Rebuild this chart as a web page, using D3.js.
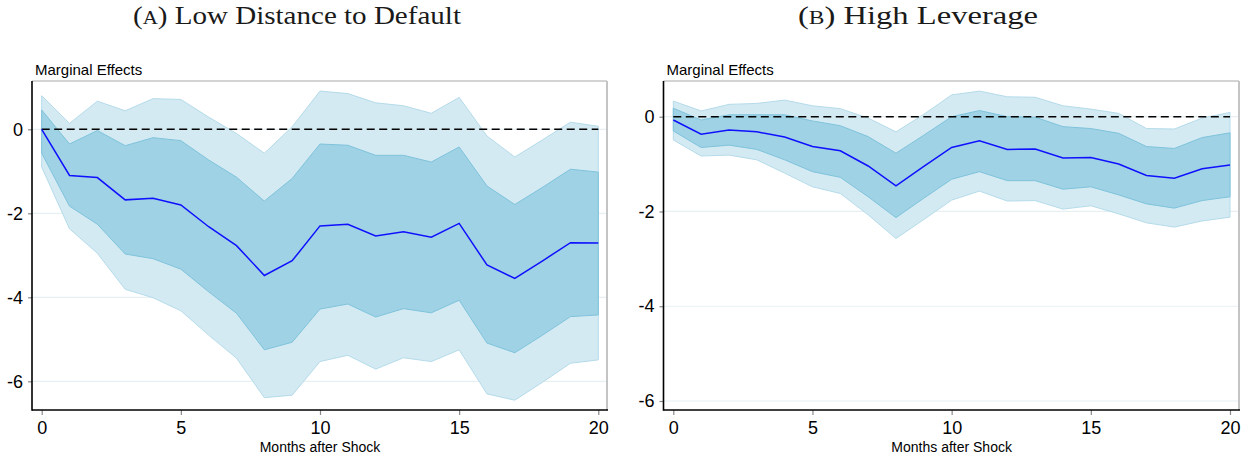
<!DOCTYPE html>
<html><head><meta charset="utf-8">
<script src="https://cdn.jsdelivr.net/npm/d3@7"></script>
<style>body{margin:0;background:#fff}svg{display:block}</style>
</head><body>
<svg id="c" width="1253" height="460"></svg>
<script>
const months = d3.range(0, 21);
const xTicks = [0, 5, 10, 15, 20];
const yTicks = [0, -2, -4, -6];

// Panel A: Low Distance to Default
const aMid = [0.00,-1.10,-1.15,-1.68,-1.64,-1.80,-2.32,-2.77,-3.48,-3.13,-2.30,-2.26,-2.54,-2.44,-2.57,-2.24,-3.23,-3.55,-3.13,-2.70,-2.71];
const aHi68 = [0.46,-0.35,-0.03,-0.39,-0.20,-0.27,-0.73,-1.14,-1.71,-1.17,-0.35,-0.38,-0.62,-0.62,-0.78,-0.42,-1.35,-1.79,-1.38,-0.95,-1.02];
const aLo68 = [-0.57,-1.83,-2.26,-2.97,-3.08,-3.33,-3.87,-4.38,-5.25,-5.07,-4.28,-4.16,-4.47,-4.27,-4.37,-4.07,-5.09,-5.32,-4.90,-4.46,-4.42];
const aHi90 = [0.80,0.14,0.67,0.44,0.73,0.71,0.29,-0.10,-0.57,0.06,0.91,0.85,0.63,0.56,0.38,0.76,-0.16,-0.66,-0.25,0.17,0.07];
const aLo90 = [-0.90,-2.37,-2.95,-3.81,-4.01,-4.32,-4.90,-5.45,-6.39,-6.33,-5.53,-5.38,-5.71,-5.44,-5.53,-5.25,-6.30,-6.45,-6.02,-5.57,-5.49];

// Panel B: High Leverage
const bMid = [-0.07,-0.37,-0.28,-0.32,-0.43,-0.63,-0.72,-1.04,-1.46,-1.05,-0.65,-0.51,-0.69,-0.68,-0.87,-0.86,-1.00,-1.24,-1.30,-1.10,-1.02];
const bHi68 = [0.18,-0.07,0.04,0.04,0.04,-0.09,-0.19,-0.42,-0.77,-0.39,0.00,0.13,0.00,-0.01,-0.21,-0.25,-0.35,-0.63,-0.67,-0.44,-0.34];
const bLo68 = [-0.30,-0.65,-0.60,-0.69,-0.91,-1.16,-1.28,-1.69,-2.13,-1.72,-1.32,-1.16,-1.35,-1.35,-1.53,-1.48,-1.65,-1.84,-1.93,-1.77,-1.69];
const bHi90 = [0.33,0.12,0.26,0.28,0.35,0.23,0.17,-0.03,-0.32,0.05,0.46,0.54,0.42,0.41,0.23,0.16,0.07,-0.25,-0.26,-0.03,0.09];
const bLo90 = [-0.49,-0.83,-0.81,-0.91,-1.19,-1.48,-1.62,-2.07,-2.57,-2.17,-1.76,-1.57,-1.78,-1.77,-1.95,-1.88,-2.05,-2.24,-2.33,-2.20,-2.12];

const titles = [["A", "Low Distance to Default"], ["B", "High Leverage"]];
const yLabel = "Marginal Effects";
const xLabel = "Months after Shock";

const svg = d3.select("#c");
const sans = "'Liberation Sans', Arial, Helvetica, sans-serif";
const serif = "'Liberation Serif', 'Times New Roman', serif";

function panel(cfg, mid, hi68, lo68, hi90, lo90, title) {
  const g = svg.append("g");
  const x = d3.scaleLinear().domain([0, 20]).range(cfg.xr);
  const y = d3.scaleLinear().domain([0, -6]).range(cfg.yr);
  const [fl, fr, ft, fb] = cfg.frame;

  // gridlines
  g.selectAll(".grid").data(yTicks).join("line")
    .attr("x1", fl).attr("x2", fr)
    .attr("y1", d => y(d)).attr("y2", d => y(d))
    .attr("stroke", "#e6f0f3").attr("stroke-width", 1.2);

  const area = (lo, hi) => d3.area().x((d, i) => x(months[i])).y0((d, i) => y(lo[i])).y1((d, i) => y(hi[i]));
  g.append("path").datum(months).attr("d", area(lo90, hi90))
    .attr("fill", "#d4eaf3").attr("stroke", "#b4dbea").attr("stroke-width", 1);
  g.append("path").datum(months).attr("d", area(lo68, hi68))
    .attr("fill", "#9ed2e4").attr("stroke", "#7fc3dc").attr("stroke-width", 1);

  // zero line
  g.append("line").attr("x1", x(0)).attr("x2", x(20)).attr("y1", y(0)).attr("y2", y(0))
    .attr("stroke", "#000").attr("stroke-width", 1.4).attr("stroke-dasharray", "8,4.5");

  g.append("path").datum(mid)
    .attr("d", d3.line().x((d, i) => x(months[i])).y(d => y(d)))
    .attr("fill", "none").attr("stroke", "#1010ff").attr("stroke-width", 1.5);

  // frame top/right
  g.append("line").attr("x1", fl).attr("x2", fr).attr("y1", ft).attr("y2", ft).attr("stroke", "#a8a8a8").attr("stroke-width", 1);
  g.append("line").attr("x1", fr).attr("x2", fr).attr("y1", ft).attr("y2", fb).attr("stroke", "#c4c4c4").attr("stroke-width", 2);

  // axes
  const xa = g.append("g").attr("transform", `translate(0,${fb})`)
    .call(d3.axisBottom(x).tickValues(xTicks).tickFormat(d => String(d)).tickSize(5).tickPadding(6).tickSizeOuter(0));
  xa.select(".domain").remove();
  xa.selectAll(".tick line").attr("stroke", "#888").attr("stroke-width", 1.2);
  xa.selectAll(".tick text").attr("font-family", sans).attr("font-size", 18).attr("fill", "#000");
  g.append("line").attr("x1", fl).attr("x2", fr + 1).attr("y1", fb).attr("y2", fb).attr("stroke", "#000").attr("stroke-width", 1.6);

  const ya = g.append("g").attr("transform", `translate(${fl},0)`)
    .call(d3.axisLeft(y).tickValues(yTicks).tickFormat(d => String(d)).tickSize(4).tickPadding(5).tickSizeOuter(0));
  ya.select(".domain").remove();
  ya.selectAll(".tick line").attr("stroke", "#888").attr("stroke-width", 1.2);
  ya.selectAll(".tick text").attr("font-family", sans).attr("font-size", 18).attr("fill", "#000");
  g.append("line").attr("x1", fl).attr("x2", fl).attr("y1", ft).attr("y2", fb + 0.8).attr("stroke", "#000").attr("stroke-width", 1.6);

  g.append("text").attr("x", fl + 3).attr("y", 75).attr("font-family", sans).attr("font-size", 15).text(yLabel);
  g.append("text").attr("x", (x(0) + x(20)) / 2).attr("y", 452).attr("text-anchor", "middle")
    .attr("font-family", sans).attr("font-size", 14).text(xLabel);

  const t = g.append("text").attr("x", cfg.tx).attr("y", 24).attr("text-anchor", "middle")
    .attr("font-family", serif).attr("font-size", 25).attr("fill", "#1a1a1a")
    .attr("textLength", cfg.tw).attr("lengthAdjust", "spacingAndGlyphs");
  t.append("tspan").text("(");
  t.append("tspan").attr("font-size", 18).text(title[0]);
  t.append("tspan").text(") " + title[1]);
}

panel({xr: [41.7, 598.3], yr: [129.3, 381.3], frame: [32, 607, 81, 410], tx: 297, tw: 328},
  aMid, aHi68, aLo68, aHi90, aLo90, titles[0]);
panel({xr: [673.3, 1230], yr: [116.7, 401], frame: [663.5, 1239, 81, 410], tx: 918, tw: 240},
  bMid, bHi68, bLo68, bHi90, bLo90, titles[1]);
</script>
</body></html>
